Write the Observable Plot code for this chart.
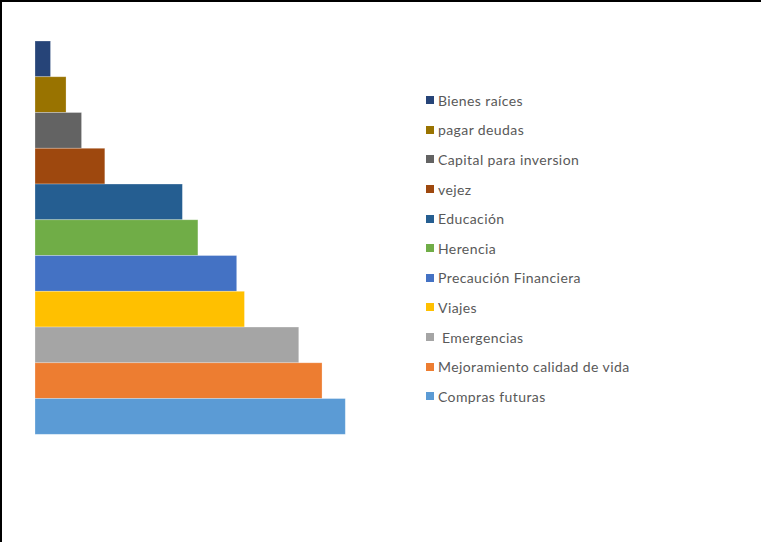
<!DOCTYPE html>
<html>
<head>
<meta charset="utf-8">
<script src="https://cdn.jsdelivr.net/npm/d3@7"></script>
<script src="https://cdn.jsdelivr.net/npm/@observablehq/plot@0.6"></script>
<style>
  html, body { margin: 0; padding: 0; background: #fff; }
  #wrap { position: relative; width: 761px; height: 542px; overflow: hidden; background: #fff; }
  #frame { position: absolute; left: 0; top: 0; width: 761px; height: 542px; box-sizing: border-box;
           border-top: 2px solid #000; border-left: 2px solid #000; pointer-events: none; }
  #chart { position: absolute; left: 0; top: 0; }
  #legend { position: absolute; left: 426px; top: 85.5px; font-family: Lato, "Open Sans", sans-serif;
            font-size: 14px; letter-spacing: 0.4px; color: #595959; }
  .row { height: 29.6px; display: flex; align-items: center; white-space: pre; }
  .sw { width: 8px; height: 8px; margin-right: 4px; flex: none; }
</style>
</head>
<body>
<div id="wrap">
  <div id="chart"></div>
  <div id="legend"></div>
  <div id="frame"></div>
</div>
<script>
const categories = [
  "Bienes raíces",
  "pagar deudas",
  "Capital para inversion",
  "vejez",
  "Educación",
  "Herencia",
  "Precaución Financiera",
  "Viajes",
  " Emergencias",
  "Mejoramiento calidad de vida",
  "Compras futuras"
];
const values = [2, 4, 6, 9, 19, 21, 26, 27, 34, 37, 40];
const colors = [
  "#264478", "#997300", "#636363", "#9E480E", "#255E91", "#70AD47",
  "#4472C4", "#FFC000", "#A5A5A5", "#ED7D31", "#5B9BD5"
];

const data = categories.map((c, i) => ({category: c, value: values[i]}));

const chart = Plot.plot({
  width: 761,
  height: 542,
  marginLeft: 35,
  marginRight: 415.7,
  marginTop: 41,
  marginBottom: 107.7,
  x: {domain: [0, 40], axis: null},
  y: {domain: categories, axis: null, padding: 0, round: false},
  color: {domain: categories, range: colors},
  style: {background: "transparent"},
  marks: [
    Plot.barX(data, {
      x: "value",
      y: "category",
      fill: "category",
      stroke: "#ffffff",
      strokeOpacity: 0.35,
      strokeWidth: 0.75
    })
  ]
});
document.getElementById("chart").appendChild(chart);

const legend = document.getElementById("legend");
categories.forEach((c, i) => {
  const row = document.createElement("div");
  row.className = "row";
  const sw = document.createElement("span");
  sw.className = "sw";
  sw.style.background = colors[i];
  const label = document.createElement("span");
  label.textContent = c;
  row.appendChild(sw);
  row.appendChild(label);
  legend.appendChild(row);
});
</script>
</body>
</html>
